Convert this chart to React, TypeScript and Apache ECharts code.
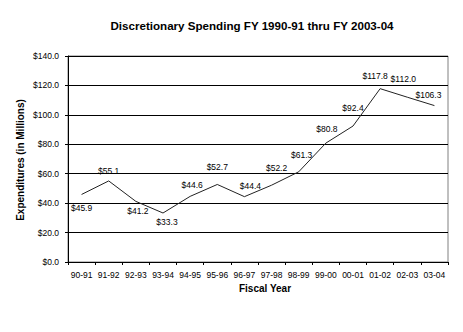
import React, { useEffect, useRef } from "react";
import * as echarts from "echarts";

const title = "Discretionary Spending FY 1990-91 thru FY 2003-04";
const yAxisTitle = "Expenditures (in Millions)";
const xAxisTitle = "Fiscal Year";
const categories = ["90-91", "91-92", "92-93", "93-94", "94-95", "95-96", "96-97", "97-98", "98-99", "99-00", "00-01", "01-02", "02-03", "03-04"];
const spending = [45.9, 55.1, 41.2, 33.3, 44.6, 52.7, 44.4, 52.2, 61.3, 80.8, 92.4, 117.8, 112.0, 106.3];

const FONT = "Liberation Sans, Arial, sans-serif";

// label placement relative to each point (style only): [dx, dy] of label centre
const labelOffsets: [number, number][] = [
  [0, 14], [0, -10], [2, 10], [4, 9], [2, -11], [0, -17], [6, -11],
  [5, -17], [3, -17], [1, -14], [0, -18], [-5, -13], [-4, -18], [-6, -11],
];

export default function App() {
  const ref = useRef<HTMLDivElement>(null);
  useEffect(() => {
    if (!ref.current) return;
    const chart = echarts.init(ref.current, null, { renderer: "svg" });
    chart.setOption({
      animation: false,
      backgroundColor: "#ffffff",
      title: {
        text: title,
        left: 247,
        textAlign: "center",
        top: 14,
        textStyle: { fontFamily: FONT, fontSize: 11.6, fontWeight: "bold", color: "#000" },
      },
      grid: { left: 68, right: 15, top: 56, bottom: 70, show: true, borderColor: "#808080", borderWidth: 1, backgroundColor: "transparent" },
      graphic: [
        {
          type: "text",
          x: 20,
          y: 160,
          rotation: Math.PI / 2,
          style: { text: yAxisTitle, fontFamily: FONT, fontSize: 10, fontWeight: "bold", fill: "#000", align: "center", verticalAlign: "middle" },
        },
        {
          type: "text",
          x: 265,
          y: 288,
          style: { text: xAxisTitle, fontFamily: FONT, fontSize: 10, fontWeight: "bold", fill: "#000", align: "center", verticalAlign: "middle" },
        },
      ],
      xAxis: {
        type: "category",
        data: categories,
        boundaryGap: true,
        axisLine: { lineStyle: { color: "#000", width: 1 } },
        axisTick: { show: true, length: 3, lineStyle: { color: "#000" } },
        axisLabel: { fontFamily: FONT, fontSize: 8.5, color: "#000", margin: 8, interval: 0 },
      },
      yAxis: {
        type: "value",
        min: 0,
        max: 140,
        interval: 20,
        axisLine: { show: true, lineStyle: { color: "#000", width: 1 } },
        axisTick: { show: true, length: 3, lineStyle: { color: "#000" } },
        splitLine: { lineStyle: { color: "#000", width: 1 } },
        axisLabel: { fontFamily: FONT, fontSize: 8.5, color: "#000", margin: 9, formatter: (v: number) => "$" + v.toFixed(1) },
      },
      series: [
        {
          type: "line",
          data: spending.map((v, i) => ({
            value: v,
            label: {
              show: true,
              position: "inside",
              offset: labelOffsets[i],
            },
          })),
          symbol: "circle",
          symbolSize: 2,
          showSymbol: true,
          itemStyle: { color: "rgba(0,0,0,0)", borderWidth: 0 },
          lineStyle: { color: "#222", width: 1 },
          label: {
            show: true,
            fontFamily: FONT,
            fontSize: 8.5,
            color: "#000",
            formatter: (p: any) => "$" + Number(p.value).toFixed(1),
          },
        },
      ],
    });
    return () => chart.dispose();
  }, []);
  return <div ref={ref} style={{ width: 463, height: 332, margin: -8 }} />;
}
